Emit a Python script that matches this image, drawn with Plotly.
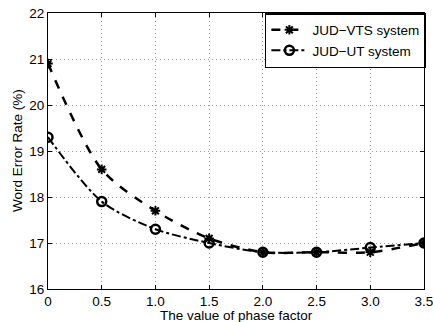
import plotly.graph_objects as go

phase = [0, 0.5, 1.0, 1.5, 2.0, 2.5, 3.0, 3.5]
vts = [20.9, 18.6, 17.7, 17.1, 16.8, 16.8, 16.8, 17.0]
ut = [19.3, 17.9, 17.3, 17.0, 16.8, 16.8, 16.9, 17.0]
x_ticks = [0, 0.5, 1.0, 1.5, 2.0, 2.5, 3.0, 3.5]
x_tick_text = ["0", "0.5", "1.0", "1.5", "2.0", "2.5", "3.0", "3.5"]
y_ticks = [16, 17, 18, 19, 20, 21, 22]

FONT = "Liberation Sans, Arial"

fig = go.Figure()
fig.add_trace(go.Scatter(
    x=phase, y=vts, name="JUD\u2212VTS system", mode="lines+markers",
    line=dict(color="black", width=2.5, dash="dash", shape="spline", smoothing=0.8),
    marker=dict(symbol="asterisk-open", size=8, color="black", line=dict(color="black", width=2)),
))
fig.add_trace(go.Scatter(
    x=phase, y=ut, name="JUD\u2212UT system", mode="lines+markers",
    line=dict(color="black", width=2, dash="dashdot", shape="spline", smoothing=0.8),
    marker=dict(symbol="circle-open", size=9, color="black", line=dict(color="black", width=2.5)),
))

axis_common = dict(
    showline=True, linecolor="black", linewidth=1, mirror="ticks",
    ticks="inside", ticklen=4, tickcolor="black", automargin=False,
    ticklabeloverflow="allow",
    showgrid=True, gridcolor="#999999", griddash="1px,3px", gridwidth=1,
    zeroline=False, tickfont=dict(family=FONT, size=13.5, color="black"),
)
fig.update_xaxes(range=[0, 3.5], tickvals=x_ticks, ticktext=x_tick_text, **axis_common)
fig.update_yaxes(range=[16, 22], tickvals=y_ticks, **axis_common)

fig.add_annotation(text="The value of phase factor", xref="paper", yref="paper",
                   x=0.5, y=0, xanchor="center", yanchor="top", yshift=-17,
                   showarrow=False, font=dict(family=FONT, size=13.5, color="black"))
fig.add_annotation(text="Word Error Rate (%)", xref="paper", yref="paper",
                   x=0, y=0.5, xanchor="center", yanchor="middle", xshift=-31,
                   textangle=-90, showarrow=False,
                   font=dict(family=FONT, size=13.5, color="black"))

fig.update_layout(
    width=433, height=322,
    margin=dict(l=48, r=9, t=13, b=33, autoexpand=False),
    plot_bgcolor="white", paper_bgcolor="white",
    legend=dict(x=1.005, y=1, xanchor="right", yanchor="top",
                bordercolor="black", borderwidth=1.5, bgcolor="white",
                font=dict(family=FONT, size=13.5, color="black"),
                tracegroupgap=0, itemwidth=36),
    showlegend=True,
)
fig.write_html("out.html", config={"displayModeBar": False},
               post_script="document.body.style.margin='0';document.body.style.overflow='hidden';")
